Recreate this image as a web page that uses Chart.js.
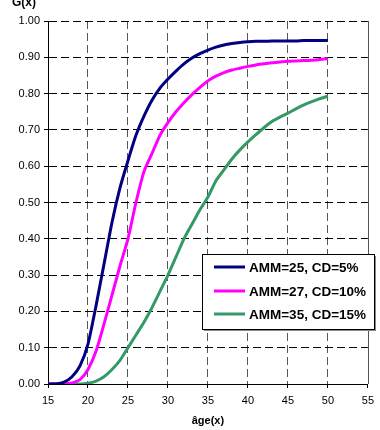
<!DOCTYPE html>
<html>
<head>
<meta charset="utf-8">
<script src="https://cdn.jsdelivr.net/npm/chart.js@4"></script>
<style>
  html, body { margin: 0; padding: 0; background: #fff; }
  #wrap { width: 380px; height: 430px; position: relative; }
</style>
</head>
<body>
<div id="wrap"><canvas id="myChart" width="380" height="430"></canvas></div>
<script>
// âges (années)
var ages = [15, 16, 17, 18, 19, 20, 21, 22, 23, 24, 25, 26, 27, 28, 29, 30, 31, 32,
  33, 34, 35, 36, 37, 38, 39, 40, 41, 42, 43, 44, 45, 46, 47, 48, 49, 50];

// G(x) pour chaque scénario
var gAmm25 = [0, 0, 0.005, 0.02, 0.05, 0.11, 0.215, 0.33, 0.445, 0.54, 0.615, 0.685,
  0.738, 0.782, 0.815, 0.84, 0.862, 0.882, 0.898, 0.91, 0.92, 0.928, 0.934, 0.938,
  0.941, 0.943, 0.944, 0.944, 0.945, 0.945, 0.945, 0.945, 0.946, 0.946, 0.946, 0.946];
var gAmm27 = [0, 0, 0, 0.003, 0.012, 0.04, 0.09, 0.165, 0.245, 0.325, 0.40, 0.50,
  0.585, 0.635, 0.685, 0.72, 0.75, 0.775, 0.797, 0.817, 0.835, 0.848, 0.858, 0.865,
  0.87, 0.875, 0.879, 0.882, 0.885, 0.887, 0.889, 0.89, 0.891, 0.892, 0.894, 0.896];
var gAmm35 = [0, 0, 0, 0, 0, 0.002, 0.008, 0.02, 0.04, 0.065, 0.10, 0.135, 0.17,
  0.21, 0.255, 0.30, 0.35, 0.40, 0.44, 0.48, 0.515, 0.56, 0.59, 0.62, 0.645, 0.667,
  0.687, 0.706, 0.723, 0.735, 0.746, 0.758, 0.769, 0.778, 0.786, 0.793];

var seriesNames = ["AMM=25, CD=5%", "AMM=27, CD=10%", "AMM=35, CD=15%"];
var seriesColors = ["#000080", "#ff00ff", "#339966"];

function toPoints(values) {
  return ages.map(function (a, i) { return { x: a, y: values[i] }; });
}

Chart.defaults.font.family = "'Liberation Sans', Arial, sans-serif";
Chart.defaults.font.size = 11;
Chart.defaults.color = "#000";

// cadre droit, titre G(x) et légende encadrée
var decorPlugin = {
  id: "decor",
  afterDraw: function (chart) {
    var c = chart.ctx;
    var area = chart.chartArea;
    c.save();
    c.strokeStyle = "#555";
    c.lineWidth = 1;
    c.beginPath();
    c.moveTo(Math.round(area.right) + 0.5, area.top);
    c.lineTo(Math.round(area.right) + 0.5, area.bottom);
    c.stroke();

    c.fillStyle = "#000";
    c.font = "bold 12px 'Liberation Sans', Arial, sans-serif";
    c.textAlign = "left";
    c.textBaseline = "alphabetic";
    c.fillText("G(x)", 12, 6);

    // légende
    var bx = 202, by = 254, bw = 172, bh = 75;
    c.fillStyle = "#888";
    c.fillRect(bx + 2, by + 2, bw, bh);
    c.fillStyle = "#fff";
    c.fillRect(bx, by, bw, bh);
    c.strokeStyle = "#000";
    c.strokeRect(bx + 0.5, by + 0.5, bw, bh);
    c.font = "bold 13.5px 'Liberation Sans', Arial, sans-serif";
    c.textBaseline = "middle";
    var rows = [267, 291, 314];
    for (var i = 0; i < seriesNames.length; i++) {
      c.strokeStyle = seriesColors[i];
      c.lineWidth = 3;
      c.beginPath();
      c.moveTo(214, rows[i]);
      c.lineTo(245, rows[i]);
      c.stroke();
      c.fillStyle = "#000";
      c.fillText(seriesNames[i], 249, rows[i] + 1);
    }
    c.restore();
  }
};

var ctx = document.getElementById("myChart").getContext("2d");
var myChart = new Chart(ctx, {
  type: "line",
  data: {
    datasets: seriesNames.map(function (name, i) {
      return {
        label: name,
        data: toPoints([gAmm25, gAmm27, gAmm35][i]),
        borderColor: seriesColors[i],
        borderWidth: 3,
        pointRadius: 0,
        fill: false,
        tension: 0.2,
      };
    }),
  },
  options: {
    responsive: false,
    animation: false,
    layout: { padding: { top: 21, right: 6, left: 0, bottom: 0 } },
    plugins: {
      legend: { display: false },
      tooltip: { enabled: false },
    },
    scales: {
      x: {
        type: "linear",
        min: 15,
        max: 55,
        afterFit: function (scale) { scale.height = 46; },
        ticks: { stepSize: 5, padding: 6, maxRotation: 0 },
        grid: {
          color: function (c) { return c.tick && c.tick.value === 55 ? "rgba(0,0,0,0)" : "#555"; },
          tickLength: 4,
          tickColor: "#000",
          tickBorderDash: [],
        },
        border: { display: true, color: "#000", width: 1, dash: [8, 4] },
        title: {
          display: true,
          text: "âge(x)",
          font: { weight: "bold", size: 11 },
          padding: { top: 0, bottom: 2 },
        },
      },
      y: {
        min: 0,
        max: 1,
        afterFit: function (scale) { scale.width = 48; },
        ticks: {
          stepSize: 0.1,
          padding: 4,
          callback: function (v) { return Number(v).toFixed(2); },
        },
        grid: {
          color: "#000",
          tickLength: 4,
          tickColor: "#000",
          tickBorderDash: [],
        },
        border: { display: true, color: "#000", width: 1, dash: [8, 4] },
      },
    },
  },
  plugins: [decorPlugin],
});
</script>
</body>
</html>
